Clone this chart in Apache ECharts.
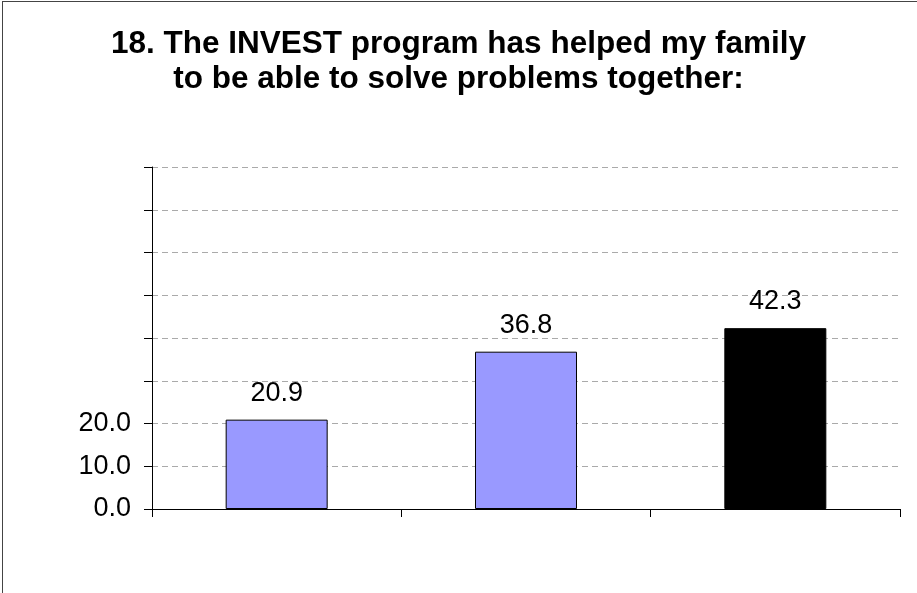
<!DOCTYPE html>
<html>
<head>
<meta charset="utf-8">
<script src="https://cdn.jsdelivr.net/npm/echarts@6/dist/echarts.min.js"></script>
<style>
html,body{margin:0;padding:0;background:#fff;}
#chart{width:917px;height:593px;position:absolute;left:0;top:0;}
#frame{position:absolute;left:2px;top:1px;width:930px;height:610px;border-left:1px solid #444;border-top:1px solid #444;pointer-events:none;}
</style>
</head>
<body>
<div id="chart"></div>
<div id="frame"></div>
<script>
const titleLines = ['18. The INVEST program has helped my family', 'to be able to solve problems together:'];
const categories = ['A', 'B', 'C'];
const values = [20.9, 36.8, 42.3];
const barColors = ['#9999FF', '#9999FF', '#000000'];
const tickLabels = ['0.0', '10.0', '20.0'];

const chart = echarts.init(document.getElementById('chart'), null, {renderer: 'canvas'});
const font = 'Liberation Sans, Arial, sans-serif';
chart.setOption({
  animation: false,
  backgroundColor: '#ffffff',
  title: {
    text: titleLines.join('\n'),
    left: 'center',
    top: 27,
    padding: 0,
    textStyle: {fontFamily: font, fontSize: 31.5, fontWeight: 'bold', color: '#000', lineHeight: 35}
  },
  grid: {left: 152, right: 17, top: 167, bottom: 84, containLabel: false},
  xAxis: {
    type: 'category',
    data: categories,
    boundaryGap: true,
    axisLine: {show: true, lineStyle: {color: '#000', width: 1}},
    axisTick: {show: true, length: 8, inside: false, alignWithLabel: false, lineStyle: {color: '#000'}},
    axisLabel: {show: false},
    splitLine: {show: false}
  },
  yAxis: {
    type: 'value',
    min: 0,
    max: 80,
    interval: 10,
    axisLine: {show: true, lineStyle: {color: '#000', width: 1}},
    axisTick: {show: true, length: 8, inside: false, lineStyle: {color: '#000'}},
    axisLabel: {
      show: true,
      margin: 21,
      fontFamily: font,
      fontSize: 27,
      color: '#000',
      formatter: function (v) {
        const i = Math.round(v / 10);
        return i < tickLabels.length ? tickLabels[i] : '';
      }
    },
    splitLine: {show: true, lineStyle: {color: '#aaaaaa', type: [6, 4], width: 1}}
  },
  series: [{
    type: 'bar',
    data: values.map((v, i) => ({value: v, itemStyle: {color: barColors[i]}})),
    barWidth: 102,
    itemStyle: {borderColor: '#000', borderWidth: 1},
    label: {
      show: true,
      position: 'top',
      distance: 13,
      fontFamily: font,
      fontSize: 27,
      color: '#000',
      formatter: p => p.value.toFixed(1)
    }
  }]
});
</script>
</body>
</html>
